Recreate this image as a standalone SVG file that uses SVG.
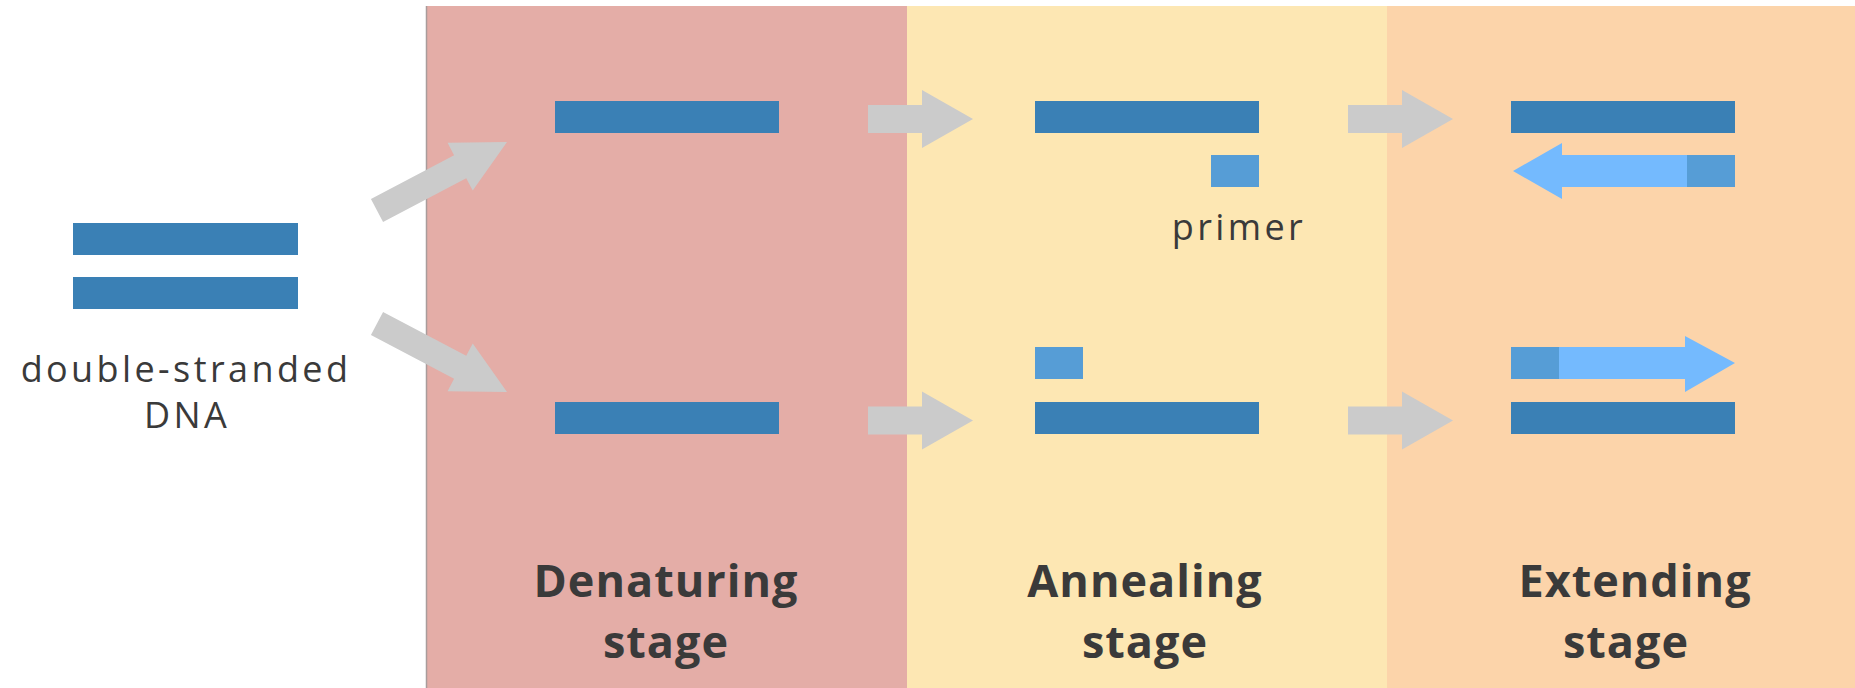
<svg xmlns="http://www.w3.org/2000/svg" width="1855" height="688" viewBox="0 0 1855 688">
  <style>
    .strand { fill: #3A80B5; }
    .primer { fill: #569DD6; }
    .newstrand { fill: #74BAFE; }
    .step { fill: #CBCBCB; }
    .label { font-family: "Open Sans", "Noto Sans", "Liberation Sans", sans-serif; font-size: 36px; fill: #3A3A3A; letter-spacing: 3.4px; }
    .stage { font-family: "Open Sans", "Noto Sans", "Liberation Sans", sans-serif; font-size: 45px; font-weight: bold; fill: #3A3A3A; letter-spacing: 1px; text-anchor: middle; }
  </style>
  <defs>
    <!-- straight step arrow, origin at tail centre -->
    <polygon id="stepArrow" points="0,-14 54,-14 54,-29 105,0 54,29 54,14 0,14"/>
    <!-- longer slanted arrow leaving the double strand -->
    <polygon id="splitArrow" points="0,-13 94,-13 94,-27 147,0 94,27 94,13 0,13"/>
  </defs>

  <rect width="1855" height="688" fill="#FFFFFF"/>

  <!-- stage backgrounds -->
  <g id="panels">
    <rect x="426" y="6" width="481" height="682" fill="#E4ADA7"/>
    <rect x="907" y="6" width="480" height="682" fill="#FDE7B3"/>
    <rect x="1387" y="6" width="468" height="682" fill="#FCD4AA"/>
    <line x1="426.5" y1="6" x2="426.5" y2="688" stroke="#A99C9B" stroke-width="1.5"/>
  </g>

  <!-- starting double strand -->
  <g id="dsDNA">
    <rect class="strand" x="73" y="223" width="225" height="32"/>
    <rect class="strand" x="73" y="277" width="225" height="32"/>
    <text class="label" x="186" y="382" text-anchor="middle">double-stranded</text>
    <text class="label" x="187" y="428" text-anchor="middle">DNA</text>
  </g>

  <!-- denaturing: separated strands -->
  <g id="denaturing">
    <rect class="strand" x="555" y="101" width="224" height="32"/>
    <rect class="strand" x="555" y="402" width="224" height="32"/>
    <text class="stage" x="666" y="597">Denaturing</text>
    <text class="stage" x="666" y="658">stage</text>
  </g>

  <!-- annealing: primers bind -->
  <g id="annealing">
    <rect class="strand" x="1035" y="101" width="224" height="32"/>
    <rect class="primer" x="1211" y="155" width="48" height="32"/>
    <text class="label" x="1239" y="240" text-anchor="middle">primer</text>
    <rect class="primer" x="1035" y="347" width="48" height="32"/>
    <rect class="strand" x="1035" y="402" width="224" height="32"/>
    <text class="stage" x="1145" y="597">Annealing</text>
    <text class="stage" x="1145" y="658">stage</text>
  </g>

  <!-- extending: new strands grow from primers -->
  <g id="extending">
    <rect class="strand" x="1511" y="101" width="224" height="32"/>
    <polygon class="newstrand" points="1513,171 1562,143 1562,155 1735,155 1735,187 1562,187 1562,199"/>
    <rect class="primer" x="1687" y="155" width="48" height="32"/>
    <polygon class="newstrand" points="1511,347 1685,347 1685,336 1735,363 1685,392 1685,379 1511,379"/>
    <rect class="primer" x="1511" y="347" width="48" height="32"/>
    <rect class="strand" x="1511" y="402" width="224" height="32"/>
    <text class="stage" x="1635" y="597">Extending</text>
    <text class="stage" x="1626" y="658">stage</text>
  </g>

  <!-- connectors -->
  <g id="connectors" class="step">
    <use href="#splitArrow" transform="translate(377,210.5) rotate(-27.8)"/>
    <use href="#splitArrow" transform="translate(377,323.5) rotate(27.8)"/>
    <use href="#stepArrow" transform="translate(868,119)"/>
    <use href="#stepArrow" transform="translate(868,420.5)"/>
    <use href="#stepArrow" transform="translate(1348,119)"/>
    <use href="#stepArrow" transform="translate(1348,420.5)"/>
  </g>
</svg>
